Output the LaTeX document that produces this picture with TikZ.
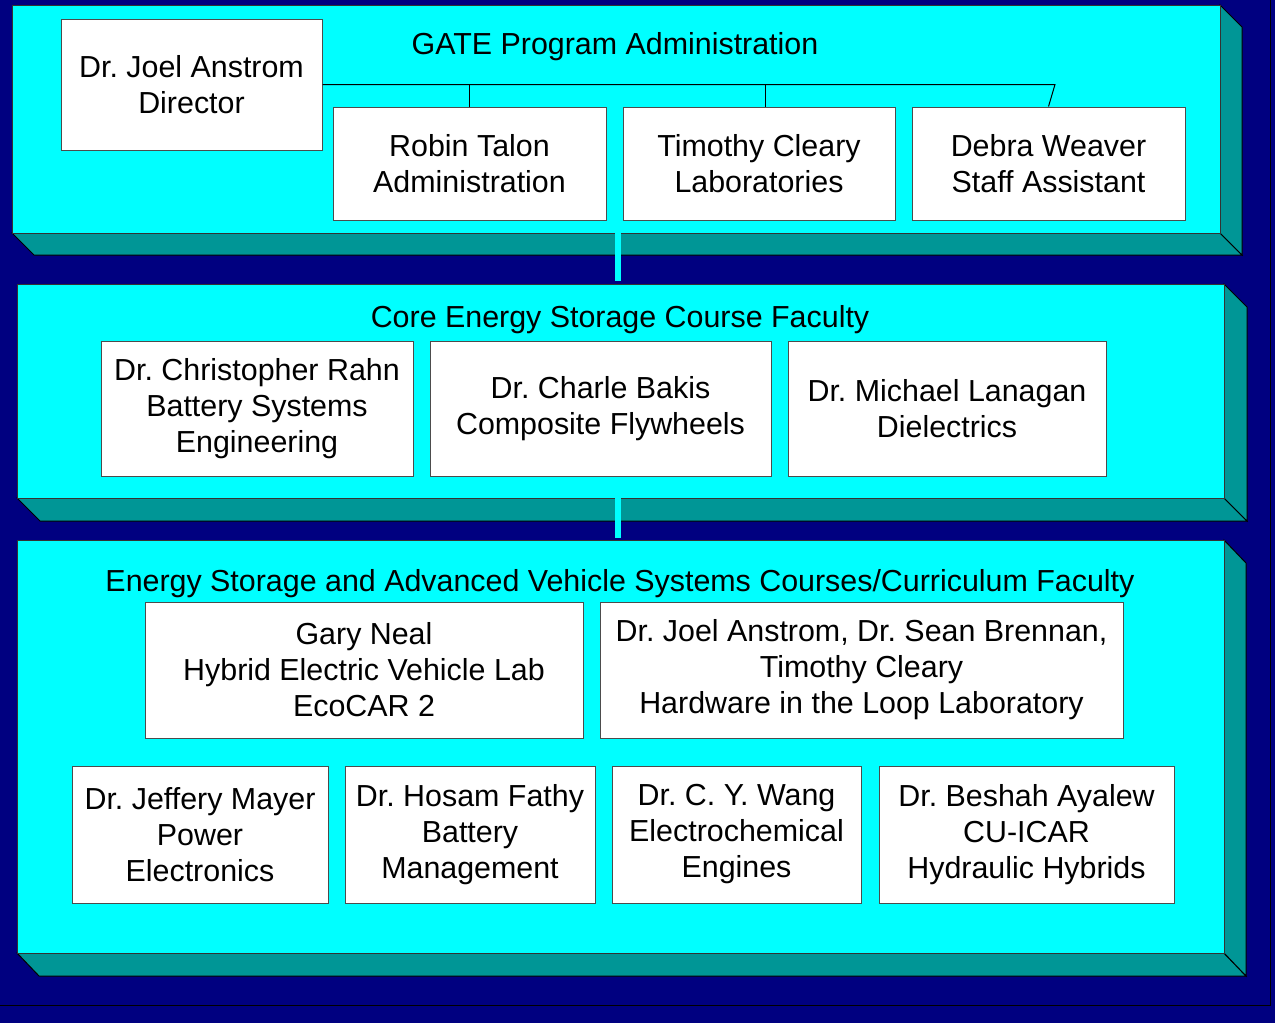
\documentclass[tikz,border=0pt]{standalone}
\usepackage{fontspec}
\setmainfont{Liberation Sans}
\usepackage{tikz}
\usetikzlibrary{positioning}
\frenchspacing

\definecolor{slide}{RGB}{0,0,128}
\definecolor{front}{RGB}{0,255,255}
\definecolor{depth}{RGB}{0,150,150}

\begin{document}
\begin{tikzpicture}[x=0.5pt,y=-0.5pt,line width=0.5pt,
  every node/.style={font=\fontsize{15.2}{18}\selectfont},
  member/.style 2 args={draw=black!70, fill=white, align=center, inner sep=0pt,
    minimum width=#1*0.5pt, minimum height=#2*0.5pt},
  face/.style={draw=black!80, fill=front},
  side/.style={draw=black, fill=depth},
  link/.style={draw=front, line width=3pt}]
	\useasboundingbox (0,0) rectangle (1275,1023);
	\fill[slide] (0,0) rectangle (1275,1023);
	\draw[black] (0,1005) -- (1270,1005) -- (1270,0);
	% the three levels, each a slab with its depth faces
	\draw[side] (12,233) -- (1220,233) -- (1242,255) -- (34,255) -- cycle;
	\draw[side] (1220,5) -- (1242,27) -- (1242,255) -- (1220,233) -- cycle;
	\draw[face] (12,5) rectangle (1220,233);
	\draw[side] (17,498) -- (1224,498) -- (1247,521) -- (40,521) -- cycle;
	\draw[side] (1224,284) -- (1247,307) -- (1247,521) -- (1224,498) -- cycle;
	\draw[face] (17,284) rectangle (1224,498);
	\draw[side] (17,953) -- (1224,953) -- (1246,976) -- (39,976) -- cycle;
	\draw[side] (1224,540) -- (1246,563) -- (1246,976) -- (1224,953) -- cycle;
	\draw[face] (17,540) rectangle (1224,953);
	\coordinate (top) at (618,233);
	\coordinate (mid) at (618,498);
	\draw[link] (top) -- ++(0,48);
	\draw[link] (mid) -- ++(0,40);
	% administration
	\node (gate) at (615,47) {GATE Program Administration};
	\node[member={261}{131}] (dir) at (191.5,84.5) {Dr. Joel Anstrom\\Director};
	\node[member={273}{113}] (talon) at (469.5,163.5) {Robin Talon\\Administration};
	\node[member={272}{113}] (cleary) at (759,163.5) {Timothy Cleary\\Laboratories};
	\node[member={273}{113}] (weaver) at (1048.5,163.5) {Debra Weaver\\Staff Assistant};
	\coordinate (bus) at (1055,84.5);
	\draw (dir.east) -- (bus) -- (weaver.north);
	\draw (talon.north) -- (talon.north |- bus);
	\draw ([xshift=3pt]cleary.north) -- ([xshift=3pt]cleary.north |- bus);
	% core faculty
	\node (core) at (620,320) {Core Energy Storage Course Faculty};
	\node[member={312}{135}] (rahn) at (257,408.5) {Dr. Christopher Rahn\\Battery Systems\\Engineering};
	\node[member={341}{135}] (bakis) at (600.5,408.5) {Dr. Charle Bakis\\Composite Flywheels};
	\node[member={318}{135}] (lanagan) at (947,408.5) {Dr. Michael Lanagan\\Dielectrics};
	% courses / curriculum faculty
	\node (esavs) at (620,584) {Energy Storage and Advanced Vehicle Systems Courses/Curriculum Faculty};
	\node[member={438}{136}] (neal) at (364,670) {Gary Neal\\Hybrid Electric Vehicle Lab\\EcoCAR 2};
	\node[member={523}{136}] (hil) at (861.5,670) {Dr. Joel Anstrom, Dr. Sean Brennan,\\Timothy Cleary\\Hardware in the Loop Laboratory};
	\node[member={256}{137}] (mayer) at (200,834.5) {Dr. Jeffery Mayer\\Power\\Electronics};
	\node[member={250}{137}] (fathy) at (470,834.5) {Dr. Hosam Fathy\\Battery\\Management};
	\node[member={249}{137}] (wang) at (736.5,834.5) {Dr. C. Y. Wang\\Electrochemical\\Engines};
	\node[member={295}{137}] (ayalew) at (1026.5,834.5) {Dr. Beshah Ayalew\\CU-ICAR\\Hydraulic Hybrids};
\end{tikzpicture}
\end{document}
